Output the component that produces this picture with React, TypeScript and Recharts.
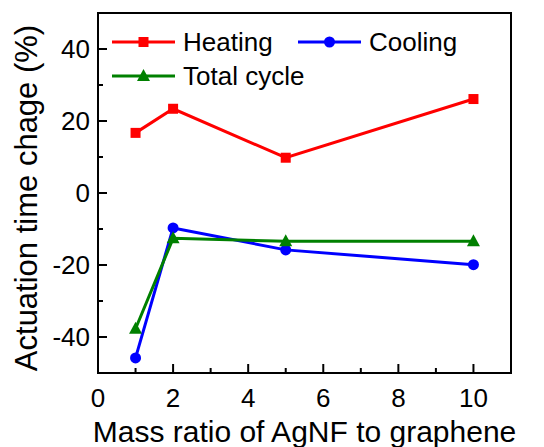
import React from 'react';
import { LineChart, Line, XAxis, YAxis, Legend, ReferenceArea } from 'recharts';

const massRatio = [1, 2, 5, 10];
const heating = [16.7, 23.4, 9.8, 26.1];
const cooling = [-45.8, -9.7, -15.8, -19.9];
const totalCycle = [-37.7, -12.6, -13.4, -13.4];

const seriesNames = ['Heating', 'Cooling', 'Total cycle'];
const xTicks = [0, 1, 2, 3, 4, 5, 6, 7, 8, 9, 10];
const yTicks = [-40, -30, -20, -10, 0, 10, 20, 30, 40];

const FONT = '"Liberation Sans", Arial, sans-serif';

const data = massRatio.map((x, i) => ({
    x,
    heating: heating[i],
    cooling: cooling[i],
    total: totalCycle[i],
}));

const SHAPES: Record<string, string> = {
    Heating: 'square',
    Cooling: 'circle',
    'Total cycle': 'triangle',
};

function marker(shape: string, cx: number, cy: number, color: string, key?: string) {
    if (shape === 'square') {
        return <rect key={key} x={cx - 5} y={cy - 5} width={10} height={10} fill={color} />;
    }
    if (shape === 'circle') {
        return <circle key={key} cx={cx} cy={cy} r={5.5} fill={color} />;
    }
    return (
        <polygon
            key={key}
            points={`${cx},${cy - 7} ${cx - 6.5},${cy + 5} ${cx + 6.5},${cy + 5}`}
            fill={color}
        />
    );
}

const makeDot = (shape: string, color: string) => (props: any) => {
    const { cx, cy, index } = props;
    return marker(shape, cx, cy, color, `dot-${shape}-${index}`);
};

// ticks point inward, every second one is labelled
const BottomTick = (props: any) => {
    const { x, y, payload } = props;
    const major = payload.value % 2 === 0;
    return (
        <g>
            <line x1={x} x2={x} y1={y} y2={y - (major ? 9 : 5)} stroke="#000" strokeWidth={2} />
            {major && (
                <text x={x} y={y + 34} textAnchor="middle" fontSize={26} fontFamily={FONT} fill="#000">
                    {payload.value}
                </text>
            )}
        </g>
    );
};

const TopTick = (props: any) => {
    const { x, y, payload } = props;
    const major = payload.value % 2 === 0;
    return <line x1={x} x2={x} y1={y} y2={y + (major ? 9 : 5)} stroke="#000" strokeWidth={2} />;
};

const LeftTick = (props: any) => {
    const { x, y, payload } = props;
    const major = payload.value % 20 === 0;
    return (
        <g>
            <line x1={x} x2={x + (major ? 9 : 5)} y1={y} y2={y} stroke="#000" strokeWidth={2} />
            {major && (
                <text x={x - 8} y={y} dy="0.35em" textAnchor="end" fontSize={26} fontFamily={FONT} fill="#000">
                    {payload.value}
                </text>
            )}
        </g>
    );
};

const RightTick = (props: any) => {
    const { x, y, payload } = props;
    const major = payload.value % 20 === 0;
    return <line x1={x} x2={x - (major ? 9 : 5)} y1={y} y2={y} stroke="#000" strokeWidth={2} />;
};

const legendSlots = [
    [0, 0],
    [186, 0],
    [0, 34],
];

const renderLegend = (props: any) => {
    const payload = [...props.payload].sort(
        (a: any, b: any) => seriesNames.indexOf(a.value) - seriesNames.indexOf(b.value)
    );
    return (
        <svg width={400} height={70} style={{ display: 'block' }}>
            {payload.map((entry: any, i: number) => {
                const [ox, oy] = legendSlots[i];
                const cy = oy + 20;
                return (
                    <g key={entry.value}>
                        <line x1={ox + 8} x2={ox + 71} y1={cy} y2={cy} stroke={entry.color} strokeWidth={3} />
                        {marker(SHAPES[entry.value], ox + 39.5, cy, entry.color)}
                        <text x={ox + 79} y={cy} dy="0.35em" fontSize={26} fontFamily={FONT} fill="#000">
                            {entry.value}
                        </text>
                    </g>
                );
            })}
        </svg>
    );
};

const YLabel = (props: any) => {
    const { viewBox } = props;
    const cx = viewBox.x + 37;
    const cy = viewBox.y + viewBox.height / 2 + 5;
    return (
        <text
            x={cx}
            y={cy}
            transform={`rotate(-90, ${cx}, ${cy})`}
            textAnchor="middle"
            fontSize={31}
            fontFamily={FONT}
            fill="#000"
        >
            Actuation time chage (%)
        </text>
    );
};

const XLabel = (props: any) => {
    const { viewBox } = props;
    const cx = viewBox.x + viewBox.width / 2;
    return (
        <text x={cx} y={viewBox.y + 69} textAnchor="middle" fontSize={30} fontFamily={FONT} fill="#000">
            Mass ratio of AgNF to graphene
        </text>
    );
};

export default function App() {
    return (
        <div style={{ position: 'absolute', left: 0, top: 0, background: '#fff' }}>
            <LineChart
                width={544}
                height={447}
                data={data}
                margin={{ top: 13, right: 33, left: 0, bottom: 0 }}
            >
                <XAxis
                    dataKey="x"
                    type="number"
                    domain={[0, 11]}
                    ticks={xTicks}
                    interval={0}
                    allowDataOverflow
                    height={74}
                    tickSize={0}
                    tickMargin={0}
                    tickLine={false}
                    tick={<BottomTick />}
                    stroke="#000"
                    axisLine={{ stroke: '#000', strokeWidth: 2 }}
                    label={<XLabel />}
                />
                <XAxis
                    xAxisId="top"
                    orientation="top"
                    dataKey="x"
                    type="number"
                    domain={[0, 11]}
                    ticks={xTicks}
                    interval={0}
                    allowDataOverflow
                    height={0}
                    tickSize={0}
                    tickMargin={0}
                    tickLine={false}
                    tick={<TopTick />}
                    stroke="#000"
                    axisLine={{ stroke: '#000', strokeWidth: 2 }}
                />
                <YAxis
                    type="number"
                    domain={[-50, 50]}
                    ticks={yTicks}
                    interval={0}
                    allowDataOverflow
                    width={98}
                    tickSize={0}
                    tickMargin={0}
                    tickLine={false}
                    tick={<LeftTick />}
                    stroke="#000"
                    axisLine={{ stroke: '#000', strokeWidth: 2 }}
                    label={<YLabel />}
                />
                <YAxis
                    yAxisId="right"
                    orientation="right"
                    type="number"
                    domain={[-50, 50]}
                    ticks={yTicks}
                    interval={0}
                    allowDataOverflow
                    width={0}
                    tickSize={0}
                    tickMargin={0}
                    tickLine={false}
                    tick={<RightTick />}
                    stroke="#000"
                    axisLine={{ stroke: '#000', strokeWidth: 2 }}
                />
                <ReferenceArea
                    x1={0}
                    x2={11}
                    y1={-50}
                    y2={50}
                    fill="none"
                    fillOpacity={0}
                    stroke="#000"
                    strokeWidth={2}
                    strokeOpacity={1}
                    ifOverflow="visible"
                />
                <Legend
                    layout="horizontal"
                    verticalAlign="middle"
                    align="center"
                    content={renderLegend}
                    wrapperStyle={{ left: 104, top: 22, width: 400, height: 70 }}
                />
                <Line
                    name="Heating"
                    dataKey="heating"
                    stroke="#ff0000"
                    strokeWidth={3}
                    dot={makeDot('square', '#ff0000')}
                    activeDot={false}
                    isAnimationActive={false}
                />
                <Line
                    name="Cooling"
                    dataKey="cooling"
                    stroke="#0000ff"
                    strokeWidth={3}
                    dot={makeDot('circle', '#0000ff')}
                    activeDot={false}
                    isAnimationActive={false}
                />
                <Line
                    name="Total cycle"
                    dataKey="total"
                    stroke="#008000"
                    strokeWidth={3}
                    dot={makeDot('triangle', '#008000')}
                    activeDot={false}
                    isAnimationActive={false}
                />
            </LineChart>
        </div>
    );
}
